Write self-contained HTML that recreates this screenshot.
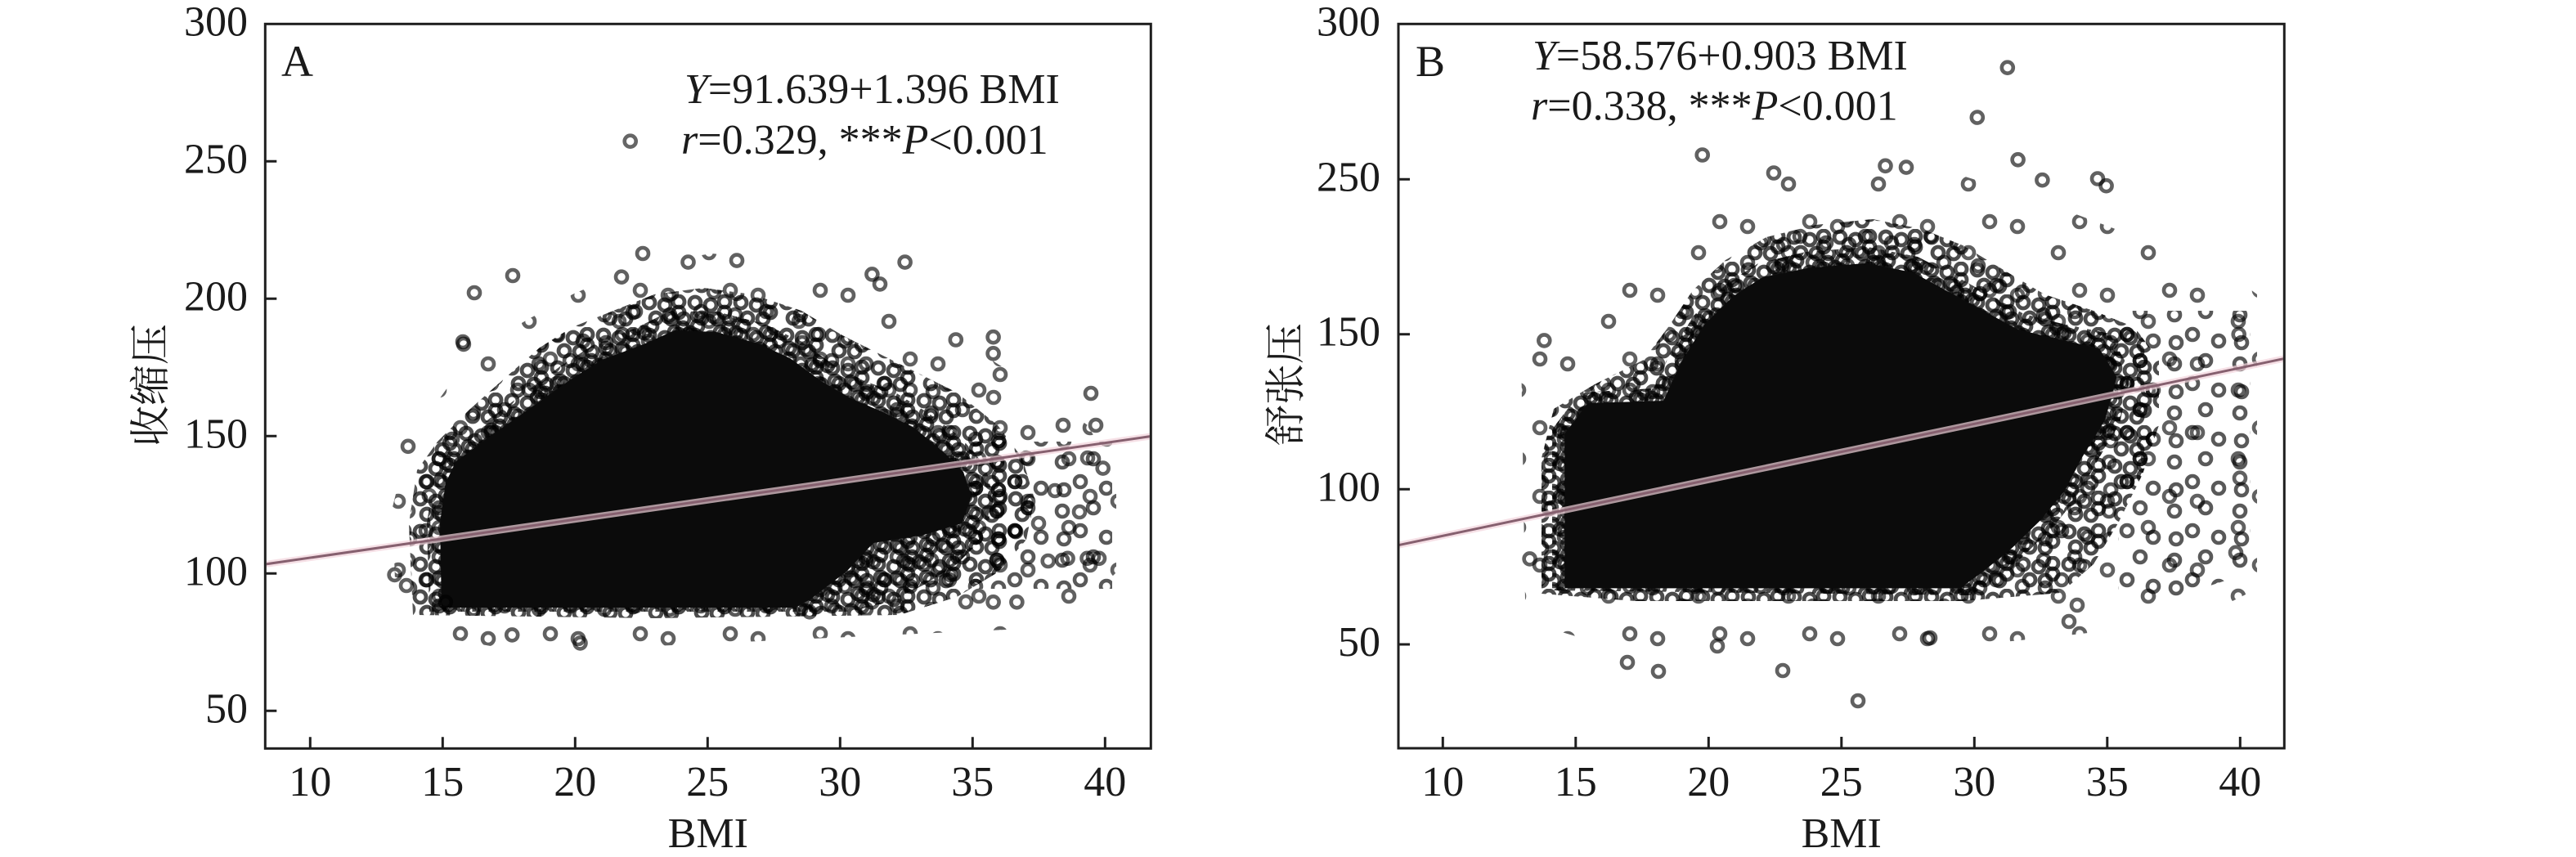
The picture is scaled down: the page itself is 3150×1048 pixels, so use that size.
<!DOCTYPE html>
<html><head><meta charset="utf-8"><style>
html,body{margin:0;padding:0;background:#fff;}
svg{display:block;}
text{font-family:"Liberation Serif","Noto Serif CJK SC",serif;fill:#1a1a1a;}
.cjk{font-family:"Liberation Serif","Noto Serif CJK SC","Noto Sans CJK SC",serif;}
</style></head><body>
<svg width="3150" height="1048" viewBox="0 0 3150 1048" xmlns="http://www.w3.org/2000/svg">
<rect width="3150" height="1048" fill="#fff"/>
<defs>
<clipPath id="ca"><rect x="325.8" y="30.8" width="1080" height="883"/></clipPath>
<clipPath id="cb"><rect x="1711.5" y="30.8" width="1080.3" height="882.7"/></clipPath>
<pattern id="pd" width="56" height="40" patternUnits="userSpaceOnUse">
<g fill="none" stroke="#000" stroke-opacity="0.7" stroke-width="4.8">
<circle cx="10" cy="10" r="7"/><circle cx="29" cy="13" r="7"/><circle cx="46" cy="9" r="7"/>
<circle cx="18" cy="29" r="7"/><circle cx="37" cy="30" r="7"/><circle cx="46" cy="22" r="7"/>
</g></pattern>
<pattern id="pd2" width="56" height="40" patternUnits="userSpaceOnUse" patternTransform="translate(23,17)">
<g fill="none" stroke="#000" stroke-opacity="0.7" stroke-width="4.8">
<circle cx="10" cy="10" r="7"/><circle cx="29" cy="13" r="7"/><circle cx="46" cy="9" r="7"/>
<circle cx="18" cy="29" r="7"/><circle cx="37" cy="30" r="7"/><circle cx="46" cy="22" r="7"/>
<circle cx="28" cy="24" r="7"/>
</g></pattern>
<pattern id="pm" width="80" height="60" patternUnits="userSpaceOnUse" patternTransform="translate(7,11)">
<g fill="none" stroke="#000" stroke-opacity="0.65" stroke-width="4.6">
<circle cx="12" cy="14" r="7"/><circle cx="50" cy="10" r="7"/><circle cx="34" cy="38" r="7"/>
<circle cx="66" cy="46" r="7"/><circle cx="14" cy="48" r="7"/>
</g></pattern>
<pattern id="po" width="110" height="84" patternUnits="userSpaceOnUse" patternTransform="translate(31,5)">
<g fill="none" stroke="#000" stroke-opacity="0.62" stroke-width="4.6">
<circle cx="16" cy="20" r="7"/><circle cx="66" cy="52" r="7"/><circle cx="92" cy="14" r="7"/>
</g></pattern>
</defs>

<!-- Panel A scatter -->
<g clip-path="url(#ca)">
<path fill="url(#po)" d="M485,770 L480,620 L500,540 L550,470 L620,405 L700,360 L780,325 L870,310 L960,318 L1040,345 L1110,385 L1180,420 L1260,470 L1330,520 L1365,580 L1365,700 L1320,745 L1230,770 L800,790 L600,790 Z"/>
<path fill="url(#pm)" d="M1190,540 L1360,540 L1360,720 L1190,720 Z"/>
<path fill="url(#pm)" d="M505,752 L500,640 L510,575 L535,540 L575,500 L620,460 L660,425 L700,400 L750,380 L800,360 L860,352 L920,360 L980,380 L1030,410 L1070,430 L1120,455 L1170,480 L1220,520 L1250,560 L1265,610 L1255,660 L1220,700 L1170,730 L1100,752 L800,756 Z"/>
<path fill="url(#pd)" d="M505,752 L500,640 L510,575 L535,540 L575,500 L620,460 L660,425 L700,400 L750,380 L800,360 L860,352 L920,360 L980,380 L1030,410 L1070,430 L1120,455 L1170,480 L1220,520 L1250,560 L1265,610 L1255,660 L1220,700 L1170,730 L1100,752 L800,756 Z"/>
<path fill="url(#pd2)" d="M525,748 L522,640 L530,585 L545,555 L585,522 L635,485 L685,448 L725,422 L780,400 L820,380 L880,382 L935,396 L980,418 L1018,445 L1055,465 L1095,480 L1135,505 L1175,535 L1205,570 L1215,610 L1205,655 L1170,690 L1130,715 L1090,735 L1040,748 Z"/>
<path fill="#0b0b0b" d="M540,743 L538,640 L545,590 L558,564 L596,536 L647,500 L698,464 L736,440 L787,421 L825,404 L876,406 L927,420 L966,438 L1004,466 L1042,488 L1080,504 L1119,524 L1155,554 L1178,577 L1188,607 L1176,640 L1130,654 L1068,664 L1036,698 L991,733 L972,743 Z"/>
<g fill="none" stroke="#000" stroke-opacity="0.62" stroke-width="4.6">
<circle cx="786" cy="310" r="7"/><circle cx="841.5" cy="320.6" r="7"/><circle cx="901" cy="318.6" r="7"/>
<circle cx="1106.6" cy="320.6" r="7"/><circle cx="760" cy="338.7" r="7"/><circle cx="1066.4" cy="335.4" r="7"/>
<circle cx="1076" cy="347.4" r="7"/><circle cx="499" cy="545.8" r="7"/><circle cx="566.9" cy="420.9" r="7"/>
<circle cx="709.5" cy="786.4" r="7"/><circle cx="626.2" cy="776.4" r="7"/><circle cx="1348.7" cy="572.6" r="7"/>
<circle cx="1344" cy="682.8" r="7"/><circle cx="1334" cy="481" r="7"/><circle cx="1243.4" cy="736.3" r="7"/>
<circle cx="1214.6" cy="736.3" r="7"/><circle cx="1168.8" cy="415.5" r="7"/><circle cx="1214.6" cy="412.2" r="7"/>
<circle cx="1214.6" cy="432.3" r="7"/><circle cx="1066.4" cy="736.3" r="7"/><circle cx="990" cy="748.3" r="7"/>
<circle cx="1329.5" cy="682.8" r="7"/><circle cx="1320" cy="626" r="7"/><circle cx="1281.7" cy="686" r="7"/>
<circle cx="1305.6" cy="682.8" r="7"/><circle cx="1162" cy="702.9" r="7"/><circle cx="1181" cy="736" r="7"/>
<circle cx="482.6" cy="702.9" r="7"/><circle cx="497" cy="716" r="7"/><circle cx="524.8" cy="606" r="7"/>
<circle cx="544.8" cy="736.3" r="7"/><circle cx="1290" cy="600" r="7"/><circle cx="1270" cy="640" r="7"/>
<circle cx="1255" cy="560" r="7"/><circle cx="1300" cy="520" r="7"/><circle cx="1330" cy="560" r="7"/>
<circle cx="566" cy="418" r="7"/><circle cx="627" cy="337" r="7"/><circle cx="580" cy="358" r="7"/>
<circle cx="1223" cy="458" r="7"/><circle cx="1340" cy="520" r="7"/><circle cx="1215" cy="486" r="7"/>
</g>
<line x1="324.3" y1="690" x2="1407.3" y2="533.5" stroke="#f2d3dc" stroke-width="8" stroke-opacity="0.7"/>
<line x1="324.3" y1="690" x2="1407.3" y2="533.5" stroke="#86606f" stroke-width="3"/>
</g>

<!-- Panel B scatter -->
<g clip-path="url(#cb)">
<path fill="url(#po)" d="M1865,735 L1860,430 L1900,400 L1980,340 L2040,280 L2100,240 L2180,215 L2300,205 L2400,215 L2480,240 L2560,270 L2640,300 L2720,330 L2760,360 L2760,720 L2680,760 L2500,780 L2300,800 L2000,800 L1900,770 Z"/>
<path fill="url(#pm)" d="M2590,380 L2752,380 L2752,700 L2660,730 L2590,730 Z"/>
<path fill="url(#pm)" d="M1885,726 L1885,560 L1900,500 L1950,470 L2010,440 L2040,400 L2070,355 L2110,318 L2160,290 L2220,275 L2290,268 L2350,280 L2400,300 L2450,330 L2500,360 L2560,380 L2610,400 L2640,440 L2640,520 L2620,580 L2590,640 L2560,690 L2520,725 L2400,735 L2000,735 Z"/>
<path fill="url(#pd)" d="M1885,726 L1885,560 L1900,500 L1950,470 L2010,440 L2040,400 L2070,355 L2110,318 L2160,290 L2220,275 L2290,268 L2350,280 L2400,300 L2450,330 L2500,360 L2560,380 L2610,400 L2640,440 L2640,520 L2620,580 L2590,640 L2560,690 L2520,725 L2400,735 L2000,735 Z"/>
<path fill="url(#pd2)" d="M1898,722 L1898,525 L1932,480 L2022,475 L2042,432 L2072,385 L2110,348 L2150,322 L2208,308 L2284,302 L2345,314 L2392,338 L2435,362 L2475,384 L2522,396 L2580,408 L2606,455 L2592,518 L2562,568 L2540,608 L2510,645 L2472,682 L2434,712 L2410,728 Z"/>
<path fill="#0b0b0b" d="M1913.2,719.4 L1913.2,530.7 L1941.6,493 L2034,490.1 L2055.4,443.7 L2083.8,397.2 L2119.3,362.4 L2154.9,339.2 L2211.7,327.6 L2282.8,321.8 L2339.7,333.4 L2382.3,356.6 L2425,379.8 L2467.6,403 L2517.3,414.7 L2567.1,426.3 L2588.4,461.1 L2574.2,513.3 L2545.8,559.7 L2524.5,600.4 L2496.1,635.2 L2460.5,670 L2425,699 L2396.5,719.4 Z"/>
<g fill="none" stroke="#000" stroke-opacity="0.62" stroke-width="4.6">
<circle cx="2454.8" cy="82.7" r="7"/><circle cx="2417.8" cy="143.6" r="7"/><circle cx="2081.7" cy="189.5" r="7"/>
<circle cx="2169" cy="211.5" r="7"/><circle cx="2305.5" cy="202.8" r="7"/><circle cx="2331" cy="204.6" r="7"/>
<circle cx="2467.6" cy="195.3" r="7"/><circle cx="2565" cy="218.5" r="7"/><circle cx="2575.6" cy="227.2" r="7"/>
<circle cx="2497.4" cy="220.2" r="7"/><circle cx="2272" cy="857" r="7"/><circle cx="2028" cy="821" r="7"/>
<circle cx="2737.7" cy="408.9" r="7"/><circle cx="2734" cy="675.8" r="7"/><circle cx="2739" cy="584.7" r="7"/>
<circle cx="1870.6" cy="683.4" r="7"/><circle cx="1888.3" cy="416.4" r="7"/>
<circle cx="1990" cy="810" r="7"/><circle cx="2100" cy="790" r="7"/><circle cx="2360" cy="780" r="7"/>
<circle cx="2530" cy="760" r="7"/><circle cx="2540" cy="740" r="7"/><circle cx="2180" cy="820" r="7"/>
</g>
<line x1="1710" y1="666.7" x2="2793.3" y2="438.5" stroke="#f2d3dc" stroke-width="8" stroke-opacity="0.7"/>
<line x1="1710" y1="666.7" x2="2793.3" y2="438.5" stroke="#86606f" stroke-width="3"/>
</g>

<!-- Axes -->
<g stroke="#1e1e1e" stroke-width="3" fill="none">
<rect x="324.3" y="29.3" width="1083" height="886"/>
<path d="M324.3,197.3h14M324.3,365.3h14M324.3,533.3h14M324.3,701.3h14M324.3,869.3h14"/>
<path d="M379.3,915.3v-14M541.3,915.3v-14M703.3,915.3v-14M865.3,915.3v-14M1027.3,915.3v-14M1189.3,915.3v-14M1351.3,915.3v-14"/>
<rect x="1710" y="29.3" width="1083.3" height="885.7"/>
<path d="M1710,219.3h14M1710,408.7h14M1710,598.3h14M1710,788h14"/>
<path d="M1764.3,915v-14M1926.8,915v-14M2089.3,915v-14M2251.8,915v-14M2414.3,915v-14M2576.8,915v-14M2739.3,915v-14"/>
</g>

<!-- Tick labels -->
<g font-size="52" text-anchor="end">
<text x="303" y="43.3">300</text><text x="303" y="211.3">250</text><text x="303" y="379.3">200</text>
<text x="303" y="547.3">150</text><text x="303" y="715.3">100</text><text x="303" y="883.3">50</text>
<text x="1688" y="43.3">300</text><text x="1688" y="233.3">250</text><text x="1688" y="422.7">150</text>
<text x="1688" y="612.3">100</text><text x="1688" y="802">50</text>
</g>
<g font-size="52" text-anchor="middle">
<text x="379.3" y="973">10</text><text x="541.3" y="973">15</text><text x="703.3" y="973">20</text>
<text x="865.3" y="973">25</text><text x="1027.3" y="973">30</text><text x="1189.3" y="973">35</text><text x="1351.3" y="973">40</text>
<text x="1764.3" y="973">10</text><text x="1926.8" y="973">15</text><text x="2089.3" y="973">20</text>
<text x="2251.8" y="973">25</text><text x="2414.3" y="973">30</text><text x="2576.8" y="973">35</text><text x="2739.3" y="973">40</text>
<text x="865.8" y="1036">BMI</text><text x="2251.7" y="1036">BMI</text>
</g>

<!-- Y axis titles -->
<text class="cjk" font-size="50" text-anchor="middle" dominant-baseline="central" transform="translate(184,471) rotate(-90)">收缩压</text>
<text class="cjk" font-size="50" text-anchor="middle" dominant-baseline="central" transform="translate(1572,470) rotate(-90)">舒张压</text>

<!-- Panel letters -->
<text x="344" y="93" font-size="54">A</text>
<text x="1731" y="93" font-size="54">B</text>

<!-- Annotations -->
<g font-size="52">
<text x="837" y="126"><tspan font-style="italic">Y</tspan>=91.639+1.396 BMI</text>
<text x="833" y="188"><tspan font-style="italic">r</tspan>=0.329, ***<tspan font-style="italic">P</tspan>&lt;0.001</text>
<text x="1874" y="85"><tspan font-style="italic">Y</tspan>=58.576+0.903 BMI</text>
<text x="1872" y="146.7"><tspan font-style="italic">r</tspan>=0.338, ***<tspan font-style="italic">P</tspan>&lt;0.001</text>
</g>
<circle cx="770.7" cy="172.7" r="7" fill="none" stroke="#000" stroke-opacity="0.6" stroke-width="4.6"/>
</svg>
</body></html>
